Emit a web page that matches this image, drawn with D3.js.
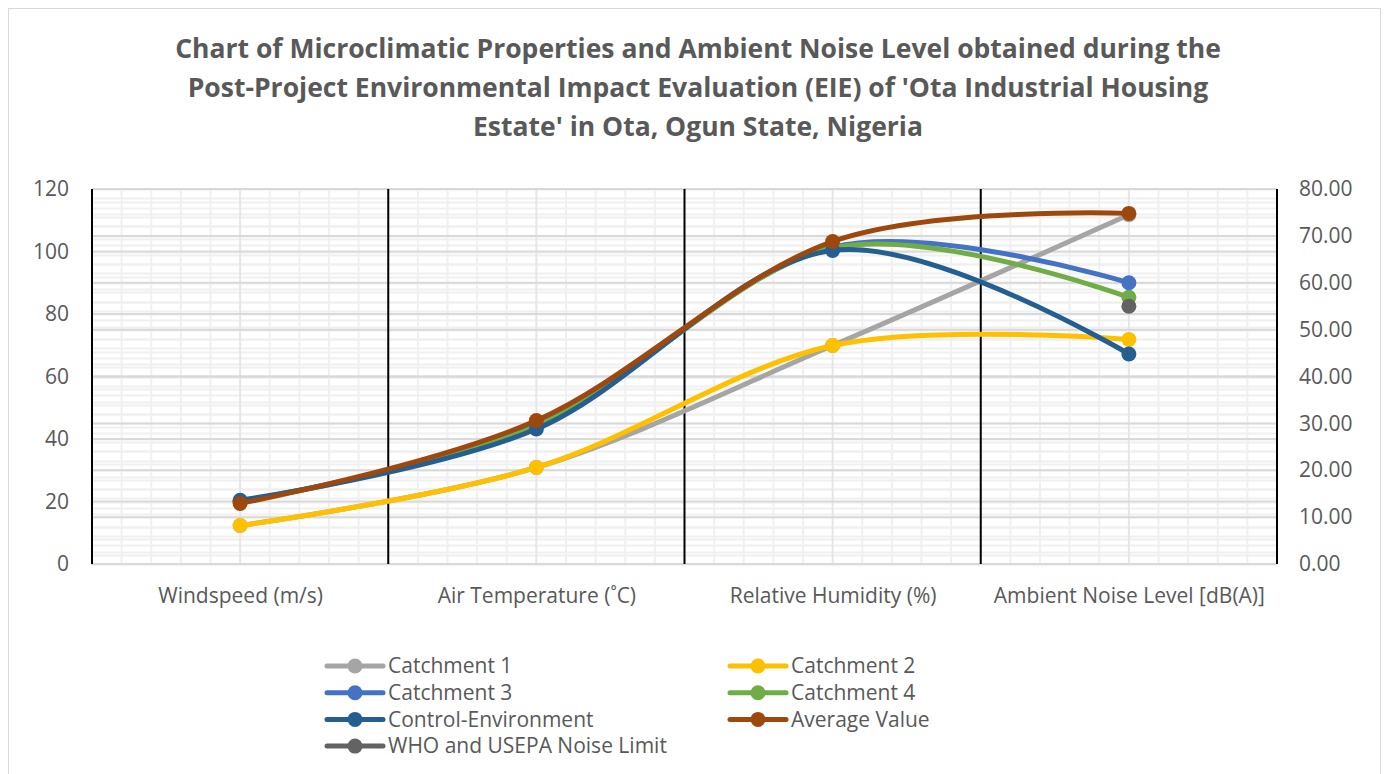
<!DOCTYPE html>
<html>
<head>
<meta charset="utf-8">
<script src="https://cdn.jsdelivr.net/npm/d3@7"></script>
<style>
  body { margin: 0; background: #fff; }
  text { font-family: "Open Sans", sans-serif; fill: #595959; }
</style>
</head>
<body>
<div id="vis"></div>
<script>
var W = 1387,
    H = 774,
    plotLeft = 92,
    plotRight = 1277,
    plotTop = 189,
    plotBottom = 564;

// categories along the x axis
var categories = ["Windspeed (m/s)", "Air Temperature (˚C)", "Relative Humidity (%)", "Ambient Noise Level [dB(A)]"];

// values are read against the right-hand axis (0 - 80)
var catchment1 = [8.2, 20.6, 46.6, 74.5];
var catchment2 = [8.2, 20.6, 46.6, 47.9];
var catchment3 = [13.4, 29.6, 67.6, 60.0];
var catchment4 = [13.3, 29.4, 67.4, 56.9];
var control = [13.6, 28.8, 66.9, 44.8];
var average = [12.9, 30.6, 68.8, 74.8];
var whoLimit = [null, null, null, 55];

var leftTicks = [0, 20, 40, 60, 80, 100, 120];
var rightTicks = [0, 10, 20, 30, 40, 50, 60, 70, 80];

var series = [
  {name: "Catchment 1", values: catchment1, color: "#a5a5a5"},
  {name: "Catchment 2", values: catchment2, color: "#ffc000"},
  {name: "Catchment 3", values: catchment3, color: "#4472c4"},
  {name: "Catchment 4", values: catchment4, color: "#70ad47"},
  {name: "Control-Environment", values: control, color: "#255e91"},
  {name: "Average Value", values: average, color: "#9e480e"},
  {name: "WHO and USEPA Noise Limit", values: whoLimit, color: "#636363"}
];

var svg = d3.select("#vis").append("svg")
    .attr("width", W)
    .attr("height", H);

svg.append("rect")
    .attr("x", 8.5).attr("y", 8.5)
    .attr("width", 1372).attr("height", 770)
    .attr("fill", "#fff")
    .attr("stroke", "#d9d9d9");

var x = d3.scalePoint().domain(categories).range([plotLeft, plotRight]).padding(0.5),
    band = d3.scaleBand().domain(categories).range([plotLeft, plotRight]),
    yL = d3.scaleLinear().domain([0, 120]).range([plotBottom, plotTop]),
    yR = d3.scaleLinear().domain([0, 80]).range([plotBottom, plotTop]);

// title
var title = [
  "Chart of Microclimatic Properties and Ambient Noise Level obtained during the",
  "Post-Project Environmental Impact Evaluation (EIE) of 'Ota Industrial Housing",
  "Estate' in Ota, Ogun State, Nigeria"
];
svg.append("g").selectAll("text")
    .data(title)
  .enter().append("text")
    .attr("x", 698)
    .attr("y", function(d, i) { return 57.5 + i * 39; })
    .attr("text-anchor", "middle")
    .style("font-size", "26.5px")
    .style("font-weight", "bold")
    .text(function(d) { return d; });

var grid = svg.append("g");

// minor gridlines (both axes)
var minorL = d3.range(0, 121, 4),
    minorR = d3.range(0, 81, 2);
grid.selectAll(".minL").data(minorL).enter().append("line")
    .attr("x1", plotLeft).attr("x2", plotRight)
    .attr("y1", function(d) { return Math.round(yL(d)) + 0.5; })
    .attr("y2", function(d) { return Math.round(yL(d)) + 0.5; })
    .attr("stroke", "#f0f0f0").attr("stroke-width", 2);
grid.selectAll(".minR").data(minorR).enter().append("line")
    .attr("x1", plotLeft).attr("x2", plotRight)
    .attr("y1", function(d) { return Math.round(yR(d)) + 0.5; })
    .attr("y2", function(d) { return Math.round(yR(d)) + 0.5; })
    .attr("stroke", "#f0f0f0").attr("stroke-width", 2);

// minor vertical gridlines, ten per category
var vMinor = [];
categories.forEach(function(c) {
  d3.range(1, 10).forEach(function(i) { vMinor.push(band(c) + band.bandwidth() * i / 10); });
});
grid.selectAll(".minV").data(vMinor).enter().append("line")
    .attr("x1", function(d) { return d; }).attr("x2", function(d) { return d; })
    .attr("y1", plotTop).attr("y2", plotBottom)
    .attr("stroke", function(d, i) { return i % 9 === 4 ? "#e6e6e6" : "#f0f0f0"; })
    .attr("stroke-width", 2);

// major gridlines
grid.selectAll(".majL").data(leftTicks).enter().append("line")
    .attr("x1", plotLeft).attr("x2", plotRight)
    .attr("y1", function(d) { return yL(d); })
    .attr("y2", function(d) { return yL(d); })
    .attr("stroke", "#d9d9d9").attr("stroke-width", 2);
grid.selectAll(".majR").data(rightTicks).enter().append("line")
    .attr("x1", plotLeft).attr("x2", plotRight)
    .attr("y1", function(d) { return yR(d); })
    .attr("y2", function(d) { return yR(d); })
    .attr("stroke", "#d9d9d9").attr("stroke-width", 2);

// category boundaries (black)
var bounds = categories.map(function(c) { return band(c); }).concat([plotRight]);
grid.selectAll(".bound").data(bounds).enter().append("line")
    .attr("x1", function(d) { return d; }).attr("x2", function(d) { return d; })
    .attr("y1", plotTop).attr("y2", plotBottom)
    .attr("stroke", "#000").attr("stroke-width", 2);

// axes
var axL = svg.append("g")
    .attr("transform", "translate(" + (plotLeft - 23) + ",0)")
    .call(d3.axisLeft(yL).tickValues(leftTicks).tickSize(0).tickPadding(0));
var axR = svg.append("g")
    .attr("transform", "translate(" + (plotRight + 22) + ",0)")
    .call(d3.axisRight(yR).tickValues(rightTicks).tickSize(0).tickPadding(0).tickFormat(d3.format(".2f")));
var axX = svg.append("g")
    .attr("transform", "translate(0,596)")
    .call(d3.axisBottom(x).tickSize(0).tickPadding(0));
[axL, axR, axX].forEach(function(a) {
  a.select(".domain").remove();
  a.selectAll("text").attr("fill", "#595959")
      .style("font-family", "'Open Sans', sans-serif").style("font-size", "21px");
});
axX.selectAll("text").attr("dy", "0.35em");

// series (Excel-style smoothed lines)
var smoothLine = d3.line()
    .defined(function(d) { return d != null; })
    .x(function(d, i) { return x(categories[i]); })
    .y(function(d) { return yR(d); })
    .curve(d3.curveCardinal.tension(0));

var plot = svg.append("g");
series.forEach(function(s) {
  var g = plot.append("g");
  g.append("path")
      .attr("d", smoothLine(s.values))
      .attr("fill", "none")
      .attr("stroke", s.color)
      .attr("stroke-width", 5)
      .attr("stroke-linecap", "round");
  g.selectAll("circle")
      .data(s.values.map(function(v, i) { return {v: v, c: categories[i]}; })
        .filter(function(d) { return d.v != null; }))
    .enter().append("circle")
      .attr("cx", function(d) { return x(d.c); })
      .attr("cy", function(d) { return yR(d.v); })
      .attr("r", 7.5)
      .attr("fill", s.color);
});

// legend
var legend = svg.append("g").selectAll("g")
    .data(series)
  .enter().append("g")
    .attr("transform", function(d, i) {
      return "translate(" + (i % 2 ? 730 : 327) + "," + (666 + Math.floor(i / 2) * 26.7) + ")";
    });
legend.append("line")
    .attr("x1", 0).attr("x2", 56)
    .attr("stroke", function(d) { return d.color; })
    .attr("stroke-width", 5)
    .attr("stroke-linecap", "round");
legend.append("circle")
    .attr("cx", 28).attr("r", 7.5)
    .attr("fill", function(d) { return d.color; });
legend.append("text")
    .attr("x", 61)
    .attr("dy", "0.35em")
    .style("font-size", "21px")
    .text(function(d) { return d.name; });
</script>
</body>
</html>
